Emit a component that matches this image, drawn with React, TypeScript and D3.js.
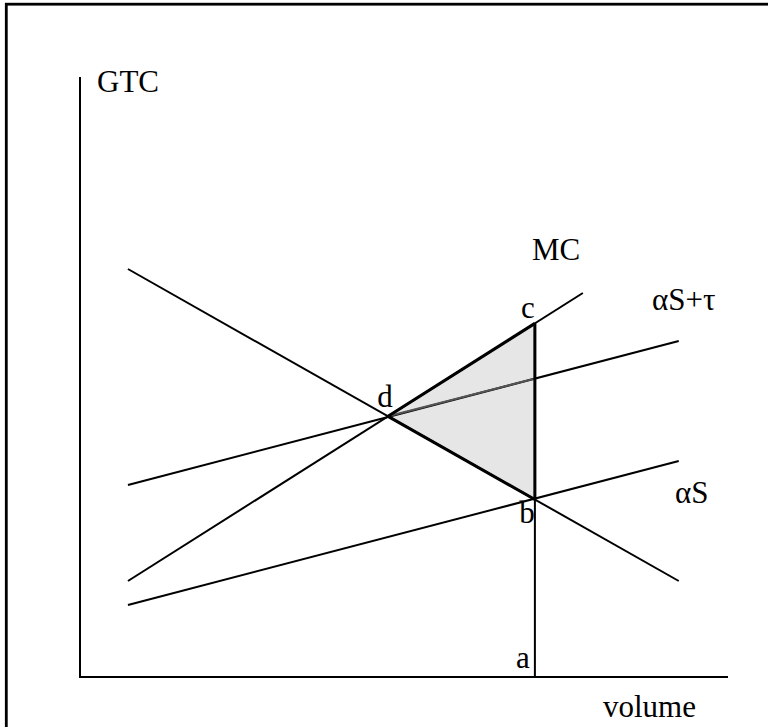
import React from "react";
import * as d3 from "d3";

type Pt = { x: number; y: number };

// Conceptual diagram, values in a 0..100 unit space
const demandLine: Pt[] = [{ x: 7.4, y: 68 }, { x: 92.4, y: 16 }];
const mcLine: Pt[] = [{ x: 7.4, y: 16 }, { x: 77.6, y: 64 }];
const supplyTaxLine: Pt[] = [{ x: 7.4, y: 32 }, { x: 92.4, y: 56 }];
const supplyLine: Pt[] = [{ x: 7.4, y: 12 }, { x: 92.4, y: 36 }];
const volumeA = 70.2; // position of "a"
const axisLabels = { y: "GTC", x: "volume" };

const W = 768;
const H = 727;

const xScale = d3.scaleLinear().domain([0, 100]).range([80, 728]);
const yScale = d3.scaleLinear().domain([0, 100]).range([677, 77]);

function yAt(l: Pt[], x: number) {
  const [p, q] = l;
  return p.y + ((q.y - p.y) * (x - p.x)) / (q.x - p.x);
}
function intersect(l1: Pt[], l2: Pt[]): Pt {
  const m1 = (l1[1].y - l1[0].y) / (l1[1].x - l1[0].x);
  const m2 = (l2[1].y - l2[0].y) / (l2[1].x - l2[0].x);
  const b1 = l1[0].y - m1 * l1[0].x;
  const b2 = l2[0].y - m2 * l2[0].x;
  const x = (b2 - b1) / (m1 - m2);
  return { x, y: m1 * x + b1 };
}

const line = d3
  .line<Pt>()
  .x((d) => xScale(d.x))
  .y((d) => yScale(d.y));

export default function App() {
  const d = intersect(demandLine, mcLine);
  const b: Pt = { x: volumeA, y: yAt(demandLine, volumeA) };
  const c: Pt = { x: volumeA, y: yAt(mcLine, volumeA) };
  const taxInside: Pt = { x: volumeA, y: yAt(supplyTaxLine, volumeA) };
  const font = "'Liberation Serif', 'Times New Roman', serif";
  const fs = 31;
  return (
    <svg
      width={W}
      height={H}
      style={{ position: "absolute", left: 0, top: 0, background: "#fff" }}
    >
      <rect x={6.3} y={4.2} width={900} height={900} fill="none" stroke="#000" strokeWidth={2.8} />
      {/* shaded triangle */}
      <path d={line([d, c, b, d]) + "Z"} fill="#e6e6e6" stroke="none" />
      {/* axes */}
      <line x1={xScale(0)} y1={yScale(0)} x2={xScale(0)} y2={yScale(100)} stroke="#000" strokeWidth={2} />
      <line x1={xScale(0) - 1} y1={yScale(0)} x2={xScale(100)} y2={yScale(0)} stroke="#000" strokeWidth={2} />
      {/* curves */}
      {[demandLine, mcLine, supplyTaxLine, supplyLine].map((l, i) => (
        <path key={i} d={line(l) || ""} fill="none" stroke="#000" strokeWidth={2} />
      ))}
      <path d={line([d, taxInside]) || ""} fill="none" stroke="#555" strokeWidth={2} />
      {/* vertical from a */}
      <line x1={xScale(volumeA)} y1={yScale(0)} x2={xScale(volumeA)} y2={yScale(c.y)} stroke="#000" strokeWidth={2} />
      {/* thick triangle edges */}
      <path d={line([d, c]) || ""} fill="none" stroke="#000" strokeWidth={3} />
      <path d={line([d, b]) || ""} fill="none" stroke="#000" strokeWidth={3} />
      <path d={line([b, c]) || ""} fill="none" stroke="#000" strokeWidth={3} />
      {/* labels */}
      <g fontFamily={font} fontSize={fs} fill="#000">
        <text x={97} y={92}>{axisLabels.y}</text>
        <text x={603} y={717}>{axisLabels.x}</text>
        <text x={532} y={260}>MC</text>
        <text x={652} y={310}>αS+τ</text>
        <text x={675} y={503}>αS</text>
        <text x={528} y={318} textAnchor="middle">c</text>
        <text x={385} y={407} textAnchor="middle">d</text>
        <text x={527} y={523} textAnchor="middle">b</text>
        <text x={523} y={668} textAnchor="middle">a</text>
      </g>
    </svg>
  );
}
